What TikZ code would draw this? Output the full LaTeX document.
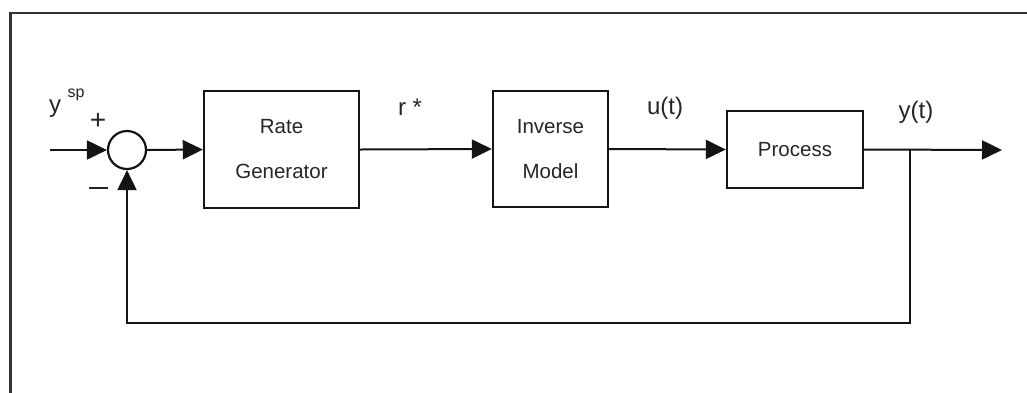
\documentclass[tikz,border=0pt]{standalone}
\usepackage{fontspec}
\setmainfont{Liberation Sans}
\usetikzlibrary{arrows.meta}
\begin{document}
\begin{tikzpicture}[x=1pt,y=-1pt,
  wire/.style={line width=2pt, draw=black!92},
  flow/.style={wire, -{Triangle[length=20pt,width=19pt]}},
  block/.style={draw=black!92, line width=2.4pt, inner sep=0pt, align=center,
    font=\fontsize{20.5}{45}\selectfont, text=black!85},
  lbl/.style={inner sep=0pt, font=\fontsize{24}{28}\selectfont, text=black!85}]
  \useasboundingbox[fill=white] (0,0) rectangle (1027,392);
  % outer frame
  \draw[line width=2.4pt, draw=black!80] (10.5,395) -- (10.5,13) -- (1030,13);
  % blocks
  \node[draw=black!92, line width=2.2pt, circle, minimum size=38pt, inner sep=0pt] (sum) at (127,150) {};
  \node[block, minimum width=155pt, minimum height=117pt] (rg) at (281.5,149.5) {Rate\\Generator};
  \node[block, minimum width=115pt, minimum height=116pt] (im) at (550.5,149) {Inverse\\Model};
  \node[block, minimum width=136pt, minimum height=77pt] (pr) at (795,149.5) {Process};
  % signal points
  \coordinate (in) at (50,150);
  \coordinate (out) at (1002,150);
  \coordinate (br) at (910,150);
  \coordinate (fb) at (910,323);
  \coordinate (fbl) at (127,323);
  % connectors
  \draw[flow] (in) -- (sum.west);
  \draw[flow] (sum.east) -- (rg.west);
  \draw[flow] (rg.east) -- (im.west);
  \draw[flow] (im.east) -- (pr.west);
  \draw[flow] (pr.east) -- (out);
  \draw[flow] (br) -- (fb) -- (fbl) -- (sum.south);
  % labels
  \node[lbl] (ysp) at (55,109) {y};
  \node[inner sep=0pt, font=\fontsize{16}{18}\selectfont, text=black!85] (sp) at (76,95) {sp};
  \node[lbl, font=\fontsize{28}{30}\selectfont] (plus) at (98,121) {+};
  \node[inner sep=0pt, fill=black!85, minimum width=19pt, minimum height=2.2pt] (minus) at (98,188) {};
  \node[lbl] (rstar) at (410,107) {r *};
  \node[lbl] (ut) at (665,108) {u(t)};
  \node[lbl] (yt) at (916,112) {y(t)};
\end{tikzpicture}
\end{document}
